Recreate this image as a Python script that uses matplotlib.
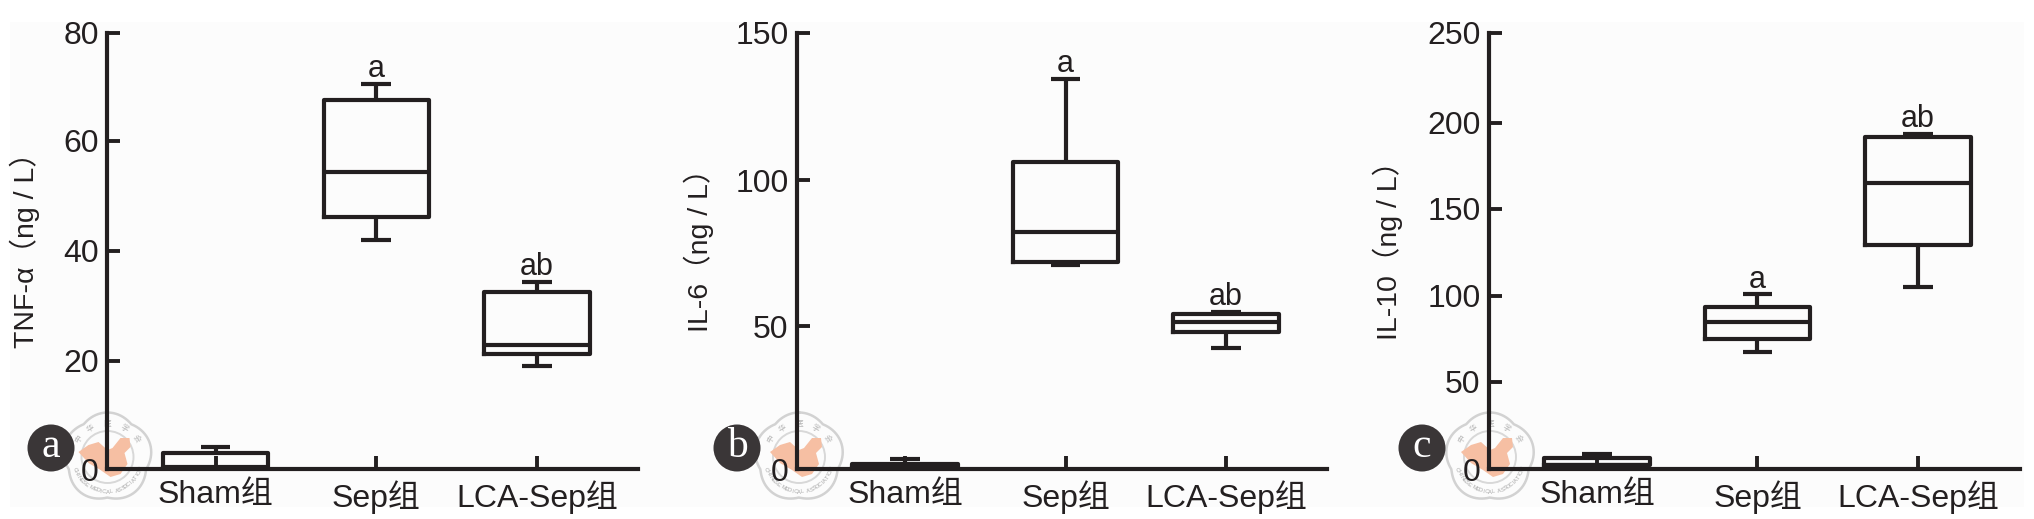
import numpy as np
import matplotlib
matplotlib.use("Agg")
import matplotlib.pyplot as plt
from matplotlib.patches import Circle, Polygon, Rectangle

W, H = 2034, 519
INK = "#231f20"
FAM = ["Liberation Sans", "Noto Sans CJK SC", "DejaVu Sans"]
plt.rcParams["font.family"] = FAM

categories = ["Sham组", "Sep组", "LCA-Sep组"]
panel_letters = ["a", "b", "c"]
y_labels = ["TNF-α（ng / L）", "IL-6（ng / L）", "IL-10（ng / L）"]
y_ticks_a = [0, 20, 40, 60, 80]
y_ticks_b = [0, 50, 100, 150]
y_ticks_c = [0, 50, 100, 150, 200, 250]
sig_labels = ["", "a", "ab"]

# low whisker, Q1, median, Q3, high whisker for Sham, Sep, LCA-Sep
tnf_low = [0.0, 41.9, 19.1]
tnf_q1 = [0.3, 46.2, 21.2]
tnf_med = [0.4, 54.3, 22.9]
tnf_q3 = [3.0, 67.6, 32.5]
tnf_high = [4.1, 70.5, 34.3]

il6_low = [0.0, 70.9, 42.4]
il6_q1 = [0.3, 72.0, 48.0]
il6_med = [0.7, 82.3, 51.5]
il6_q3 = [1.8, 106.0, 54.1]
il6_high = [3.5, 134.2, 54.9]

il10_low = [0.6, 67.1, 105.0]
il10_q1 = [2.3, 75.1, 129.0]
il10_med = [2.5, 84.7, 165.2]
il10_q3 = [6.5, 93.4, 192.1]
il10_high = [8.5, 100.7, 193.5]

# the printed axes have slightly uneven tick spacing: height in pixels above the baseline of each tick
tick_px_a = [0, 108.6, 218.6, 328.3, 436.8]
tick_px_b = [0, 143.3, 289.3, 436.8]
tick_px_c = [0, 87.6, 173.6, 260.3, 346.3, 436.8]

fig = plt.figure(figsize=(W / 100, H / 100), dpi=100, facecolor="white")
fig.add_artist(Rectangle((10 / W, 1 - 507 / H), 2014 / W, 485 / H,
                         transform=fig.transFigure, fc="#fcfcfc", ec="none", zorder=-10))

ov = fig.add_axes([0, 0, 1, 1], zorder=0)
ov.set_xlim(0, W); ov.set_ylim(H, 0); ov.axis("off"); ov.patch.set_alpha(0)
top = fig.add_axes([0, 0, 1, 1], zorder=5)
top.set_xlim(0, W); top.set_ylim(H, 0); top.axis("off"); top.patch.set_alpha(0)


def seal(cx, cy):
    t = np.linspace(0, 2 * np.pi, 500)
    r = 40.5 + 4 * np.abs(np.cos(2.5 * t))
    ov.plot(cx + r * np.sin(t), cy - r * np.cos(t), color="#d2d2d2", lw=1.8)
    ov.add_patch(Circle((cx, cy), 26, fc="none", ec="#d8d8d8", lw=1.4))
    map_pts = [(-29, -5), (-19, -12), (-9, -15), (0, -7), (5, -9), (13, -19), (22, -19), (23, -10),
               (17, -4), (20, 7), (13, 17), (3, 20), (-7, 13), (-19, 6)]
    ov.add_patch(Polygon([(cx + a, cy + b) for a, b in map_pts], closed=True, fc="#f6bfa3", ec="none"))
    for ch, a in zip("中华医学会", [-58, -30, 0, 30, 58]):
        ar = np.radians(a)
        ov.text(cx + 33 * np.sin(ar), cy - 33 * np.cos(ar), ch, fontsize=5.5, color="#b5b5b5",
                rotation=-a, ha="center", va="center", rotation_mode="anchor")
    word = "CHINESE MEDICAL ASSOCIATION"
    for ch, a in zip(word, np.radians(np.linspace(250, 110, len(word)))):
        ov.text(cx + 35 * np.sin(a), cy - 35 * np.cos(a), ch, fontsize=4.2, color="#a8a8a8",
                rotation=np.degrees(np.pi - a), ha="center", va="center", rotation_mode="anchor")


def panel(box, yticks, tick_px, ylab, ylab_x, letter, sc, seal_dx, lo, q1, med, q3, hi):
    x0, x1, t0, t1, t2 = box
    ytop, y0 = 32.5, 469.3
    unit = (t2 - t0) / 2
    ax = fig.add_axes([x0 / W, 1 - y0 / H, (x1 - x0) / W, (y0 - ytop) / H], zorder=2)
    ax.patch.set_alpha(0)
    ax.set_xlim(1 - (t0 - x0) / unit, 1 + (x1 - t0) / unit)
    ax.set_yscale("function", functions=(lambda v: np.interp(v, yticks, tick_px),
                                         lambda p: np.interp(p, tick_px, yticks)))
    ax.set_ylim(yticks[0], yticks[-1])
    stats = [dict(whislo=lo[i], q1=q1[i], med=med[i], q3=q3[i], whishi=hi[i], fliers=[])
             for i in range(3)]
    style = dict(color=INK, lw=3.0, solid_capstyle="butt")
    ax.bxp(stats, positions=[1, 2, 3], widths=0.655, capwidths=0.186, showfliers=False,
           boxprops=dict(color=INK, lw=3.0), medianprops=style, whiskerprops=style, capprops=style,
           manage_ticks=False, zorder=3)
    for i, s in enumerate(sig_labels):
        if s:
            ax.annotate(s, (i + 1, hi[i]), xytext=(0, 5), textcoords="offset points",
                        ha="center", va="baseline", fontsize=22, color=INK)
    for k in ("top", "right"):
        ax.spines[k].set_visible(False)
    for k in ("left", "bottom"):
        ax.spines[k].set_linewidth(3.0)
        ax.spines[k].set_color(INK)
    ax.set_xticks([1, 2, 3], categories)
    ax.set_yticks(yticks)
    ax.minorticks_off()
    ax.tick_params(axis="both", direction="in", length=9.5, width=2.8, color=INK, labelcolor=INK,
                   labelsize=23)
    ax.tick_params(axis="y", pad=6)
    ax.tick_params(axis="x", pad=8)
    fig.text(ylab_x / W, 1 - 243 / H, ylab, rotation=90, ha="center", va="center",
             fontsize=20.5, color=INK)
    seal(x0 + seal_dx, 457)
    top.add_patch(Circle((sc, 448), 23.5, fc="#3a3637", ec="none"))
    top.text(sc, 447, letter, color="white", fontsize=30, family="Liberation Serif",
             ha="center", va="center")


panel((107, 638, 215.5, 375, 537), y_ticks_a, tick_px_a, y_labels[0], 25, panel_letters[0], 51, 0.5,
      tnf_low, tnf_q1, tnf_med, tnf_q3, tnf_high)
panel((797, 1327, 905, 1064, 1226), y_ticks_b, tick_px_b, y_labels[1], 699, panel_letters[1], 737, 2,
      il6_low, il6_q1, il6_med, il6_q3, il6_high)
panel((1489, 2020, 1597, 1757, 1918), y_ticks_c, tick_px_c, y_labels[2], 1388, panel_letters[2], 1422, 1,
      il10_low, il10_q1, il10_med, il10_q3, il10_high)

fig.savefig("out.png", dpi=100)
